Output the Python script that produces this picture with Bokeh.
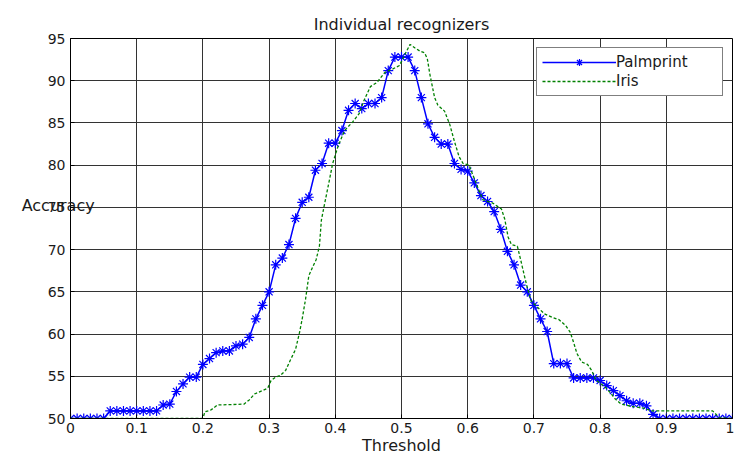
from bokeh.plotting import figure
from bokeh.models import Range1d, Legend
from bokeh.embed import file_html
from bokeh.resources import INLINE

# ---------------- data ----------------
threshold = [0.00, 0.01, 0.02, 0.03, 0.04, 0.05, 0.06, 0.07, 0.08, 0.09,
             0.10, 0.11, 0.12, 0.13, 0.14, 0.15, 0.16, 0.17, 0.18, 0.19,
             0.20, 0.21, 0.22, 0.23, 0.24, 0.25, 0.26, 0.27, 0.28, 0.29,
             0.30, 0.31, 0.32, 0.33, 0.34, 0.35, 0.36, 0.37, 0.38, 0.39,
             0.40, 0.41, 0.42, 0.43, 0.44, 0.45, 0.46, 0.47, 0.48, 0.49,
             0.50, 0.51, 0.52, 0.53, 0.54, 0.55, 0.56, 0.57, 0.58, 0.59,
             0.60, 0.61, 0.62, 0.63, 0.64, 0.65, 0.66, 0.67, 0.68, 0.69,
             0.70, 0.71, 0.72, 0.73, 0.74, 0.75, 0.76, 0.77, 0.78, 0.79,
             0.80, 0.81, 0.82, 0.83, 0.84, 0.85, 0.86, 0.87, 0.88, 0.89,
             0.90, 0.91, 0.92, 0.93, 0.94, 0.95, 0.96, 0.97, 0.98, 0.99,
             1.00]

palmprint = [50.0, 50.0, 50.0, 50.0, 50.0, 50.0, 50.9, 50.9, 50.9, 50.9,
             50.9, 50.9, 50.9, 50.9, 51.6, 51.7, 53.2, 54.1, 54.9, 54.9,
             56.4, 57.1, 57.8, 58.0, 58.0, 58.6, 58.8, 59.6, 61.8, 63.4,
             65.0, 68.2, 69.0, 70.6, 73.7, 75.6, 76.2, 79.4, 80.2, 82.6,
             82.6, 84.1, 86.5, 87.3, 86.7, 87.3, 87.3, 88.0, 91.2, 92.8,
             92.8, 92.8, 91.2, 88.0, 84.9, 83.3, 82.5, 82.5, 80.2, 79.5,
             79.3, 77.9, 76.4, 75.7, 74.5, 72.4, 69.8, 68.2, 65.8, 65.0,
             63.4, 61.8, 60.3, 56.5, 56.5, 56.5, 54.8, 54.8, 54.8, 54.8,
             54.5, 53.9, 53.3, 52.7, 52.1, 51.8, 51.8, 51.5, 50.5, 50.0,
             50.0, 50.0, 50.0, 50.0, 50.0, 50.0, 50.0, 50.0, 50.0, 50.0,
             50.0]

iris_threshold = [0.000, 0.200, 0.203, 0.212, 0.222, 0.262, 0.270, 0.278, 0.290, 0.298,
                  0.303, 0.310, 0.317, 0.325, 0.332, 0.340, 0.346, 0.350, 0.355, 0.360,
                  0.365, 0.371, 0.376, 0.379, 0.383, 0.391, 0.396, 0.404, 0.414, 0.426,
                  0.436, 0.443, 0.453, 0.463, 0.475, 0.487, 0.497, 0.505, 0.513, 0.520,
                  0.528, 0.535, 0.539, 0.543, 0.550, 0.555, 0.565, 0.573, 0.580, 0.587,
                  0.593, 0.602, 0.608, 0.616, 0.623, 0.638, 0.651, 0.656, 0.661, 0.666,
                  0.675, 0.680, 0.685, 0.690, 0.696, 0.705, 0.716, 0.727, 0.738, 0.748,
                  0.755, 0.760, 0.765, 0.772, 0.781, 0.788, 0.793, 0.800, 0.808, 0.816,
                  0.823, 0.832, 0.850, 0.868, 0.877, 0.970, 0.980, 1.000]

iris = [50.0, 50.0, 50.8, 51.0, 51.6, 51.7, 52.2, 52.9, 53.3, 53.6,
        54.5, 54.9, 55.1, 55.7, 56.9, 58.2, 60.2, 61.8, 64.1, 66.9,
        67.8, 68.8, 70.4, 73.5, 75.1, 78.2, 80.2, 82.2, 84.1, 85.1,
        86.1, 87.6, 89.3, 89.8, 91.0, 91.4, 91.8, 93.1, 94.3, 93.9,
        93.5, 93.3, 92.6, 90.7, 88.0, 87.1, 86.4, 84.8, 82.8, 81.0,
        80.2, 80.0, 78.8, 77.2, 75.9, 75.5, 74.8, 73.6, 71.5, 70.6,
        70.4, 68.8, 67.1, 65.5, 63.9, 63.2, 62.4, 62.0, 61.7, 61.0,
        60.2, 59.0, 57.7, 56.7, 56.4, 55.6, 54.6, 54.2, 53.7, 53.0,
        52.3, 51.7, 51.4, 51.2, 50.9, 50.9, 50.1, 50.0]

x_ticks = [0, 0.1, 0.2, 0.3, 0.4, 0.5, 0.6, 0.7, 0.8, 0.9, 1]
x_tick_labels = ["0", "0.1", "0.2", "0.3", "0.4", "0.5", "0.6", "0.7", "0.8", "0.9", "1"]
y_ticks = [50, 55, 60, 65, 70, 75, 80, 85, 90, 95]

title_text = "Individual recognizers"
x_label = "Threshold"
y_label = "Accuracy"

FONT = "DejaVu Sans"
TXT = "#1a1a1a"

# ---------------- figure ----------------
p = figure(width=734, height=457, output_backend="svg", toolbar_location=None,
           x_range=Range1d(0, 1), y_range=Range1d(50, 95),
           min_border_left=70, min_border_right=2, min_border_top=38, min_border_bottom=37,
           background_fill_color="white", border_fill_color="white",
           title=title_text)

p.title.align = "center"
p.title.text_font = FONT
p.title.text_font_size = "16px"
p.title.text_font_style = "normal"
p.title.text_color = TXT
p.title.standoff = 9

p.outline_line_color = "black"
p.outline_line_width = 1
p.outline_line_alpha = 1

for ax in (p.xaxis[0], p.yaxis[0]):
    ax.axis_line_color = "black"
    ax.axis_line_width = 1
    ax.major_tick_in = 4
    ax.major_tick_out = 0
    ax.major_tick_line_color = "black"
    ax.minor_tick_line_color = None
    ax.major_label_text_font = FONT
    ax.major_label_text_font_size = "14px"
    ax.major_label_text_color = TXT
    ax.axis_label_text_font = FONT
    ax.axis_label_text_font_size = "16px"
    ax.axis_label_text_font_style = "normal"
    ax.axis_label_text_color = TXT

p.xaxis.ticker = x_ticks
p.yaxis.ticker = y_ticks
p.xaxis.major_label_overrides = {t: s for t, s in zip(x_ticks, x_tick_labels)}
p.xaxis.major_label_standoff = 4
p.yaxis.major_label_standoff = 5

p.xaxis.axis_label = x_label
p.xaxis.axis_label_standoff = 0

# horizontal y label, lifted above the axis centre by trailing blank lines
p.yaxis.axis_label = y_label + "\n\n"
p.yaxis.axis_label_orientation = "horizontal"
p.yaxis.axis_label_standoff = -50

p.xgrid.grid_line_color = "#333333"
p.ygrid.grid_line_color = "#333333"
p.xgrid.grid_line_width = 1
p.ygrid.grid_line_width = 1

# ---------------- series ----------------
r_palm_line = p.line(threshold, palmprint, line_color="#0000ff", line_width=1.5)
r_palm_pts = p.scatter(threshold, palmprint, marker="asterisk", size=10,
                       line_color="#0000ff", line_width=1.2)
r_iris = p.line(iris_threshold, iris, line_color="#008000", line_width=1.3,
                line_dash="3 2")

legend = Legend(items=[("Palmprint", [r_palm_line, r_palm_pts]), ("Iris", [r_iris])],
                location="top_right", margin=9, padding=5, spacing=1,
                glyph_width=74, glyph_height=18, label_standoff=0,
                label_width=101, label_height=18,
                label_text_font=FONT, label_text_font_size="15px",
                label_text_color=TXT,
                border_line_color="black", border_line_width=1.5,
                background_fill_color="white", background_fill_alpha=1)
p.add_layout(legend)

open("out.html", "w").write(file_html(p, INLINE))
